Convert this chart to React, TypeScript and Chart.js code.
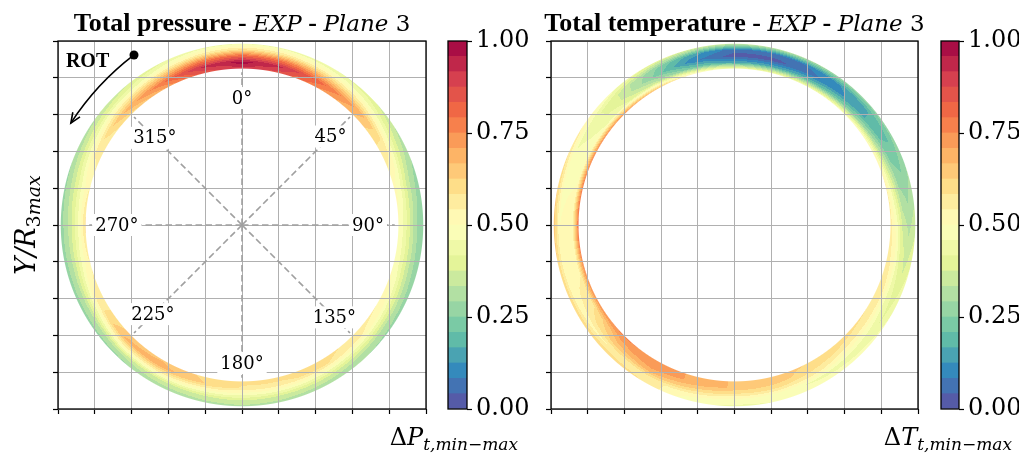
import { useEffect, useRef } from 'react';
import { Chart, registerables } from 'chart.js';

Chart.register(...registerables);

const FIG_W = 1019;
const FIG_H = 455;

// Circumferential sampling positions (deg, clockwise from top) and radial stations (Y/R3max)
const angleDeg = [0, 15, 30, 45, 60, 75, 90, 105, 120, 135, 150, 165, 180, 195, 210, 225, 240, 255, 270, 285, 300, 315, 330, 345];
const radialStations = [0.85, 0.884, 0.918, 0.951, 0.985];

// Normalised total pressure, hub -> tip
const ptHub = [0.9, 0.85, 0.74, 0.66, 0.58, 0.52, 0.5, 0.5, 0.54, 0.57, 0.6, 0.59, 0.59, 0.62, 0.66, 0.64, 0.57, 0.54, 0.6, 0.54, 0.55, 0.6, 0.7, 0.84];
const ptLower = [0.98, 0.92, 0.8, 0.7, 0.57, 0.47, 0.44, 0.45, 0.5, 0.55, 0.59, 0.58, 0.58, 0.63, 0.69, 0.68, 0.57, 0.49, 0.47, 0.49, 0.57, 0.68, 0.78, 0.92];
const ptMid = [0.82, 0.77, 0.66, 0.57, 0.46, 0.38, 0.36, 0.37, 0.41, 0.44, 0.47, 0.48, 0.48, 0.5, 0.54, 0.53, 0.44, 0.4, 0.39, 0.41, 0.47, 0.56, 0.64, 0.76];
const ptUpper = [0.6, 0.57, 0.52, 0.46, 0.38, 0.31, 0.29, 0.3, 0.32, 0.34, 0.36, 0.37, 0.38, 0.37, 0.37, 0.35, 0.33, 0.32, 0.32, 0.34, 0.38, 0.43, 0.48, 0.56];
const ptTip = [0.45, 0.44, 0.42, 0.39, 0.32, 0.27, 0.26, 0.26, 0.27, 0.29, 0.3, 0.31, 0.32, 0.31, 0.3, 0.28, 0.27, 0.27, 0.27, 0.28, 0.31, 0.35, 0.4, 0.44];

// Normalised total temperature, hub -> tip
const ttHub = [0.45, 0.45, 0.46, 0.5, 0.52, 0.55, 0.56, 0.57, 0.58, 0.6, 0.62, 0.64, 0.66, 0.7, 0.74, 0.76, 0.74, 0.76, 0.8, 0.78, 0.76, 0.74, 0.66, 0.52];
const ttLower = [0.15, 0.16, 0.2, 0.25, 0.32, 0.4, 0.48, 0.53, 0.55, 0.57, 0.6, 0.64, 0.66, 0.7, 0.74, 0.7, 0.58, 0.53, 0.52, 0.5, 0.48, 0.44, 0.36, 0.22];
const ttMid = [0.02, 0.03, 0.08, 0.14, 0.21, 0.28, 0.36, 0.42, 0.46, 0.5, 0.55, 0.58, 0.58, 0.62, 0.68, 0.64, 0.56, 0.52, 0.52, 0.49, 0.46, 0.4, 0.26, 0.1];
const ttUpper = [0.06, 0.06, 0.1, 0.15, 0.2, 0.26, 0.32, 0.37, 0.41, 0.43, 0.45, 0.47, 0.48, 0.52, 0.56, 0.54, 0.52, 0.5, 0.5, 0.48, 0.45, 0.4, 0.28, 0.15];
const ttTip = [0.35, 0.33, 0.3, 0.27, 0.27, 0.3, 0.36, 0.42, 0.46, 0.48, 0.48, 0.46, 0.45, 0.47, 0.58, 0.62, 0.62, 0.62, 0.66, 0.62, 0.56, 0.48, 0.42, 0.38];

const contourLevels = 24;
const colorbarTicks = [0, 0.25, 0.5, 0.75, 1];

// Sector annotation of the pressure map
const sectorAngles = [0, 45, 90, 135, 180, 225, 270, 315];
const sectorLabels = ['0°', '45°', '90°', '135°', '180°', '225°', '270°', '315°'];
const sectorLabelRadius = [0.69, 0.68, 0.685, 0.71, 0.75, 0.685, 0.68, 0.67];
const sectorLineRadius = 0.83;

// Rotation marker (data coordinates)
const rotText = { x: -0.957, y: 0.86 };
const rotStart = { x: -0.587, y: 0.924 };
const rotEnd = { x: -0.93, y: 0.554 };

const pressureArea = { left: 58, right: 426, top: 41, bottom: 409 };
const temperatureArea = { left: 551, right: 918, top: 41, bottom: 409 };
const pressureBar = { left: 448, right: 467, top: 41, bottom: 409 };
const temperatureBar = { left: 941, right: 959, top: 41, bottom: 409 };

// matplotlib "Spectral" anchors
const spectralStops = ['#9e0142', '#d53e4f', '#f46d43', '#fdae61', '#fee08b', '#ffffbf', '#e6f598', '#abdda4', '#66c2a5', '#3288bd', '#5e4fa2'];

function hexRgb(h: string): number[] {
  return [parseInt(h.slice(1, 3), 16), parseInt(h.slice(3, 5), 16), parseInt(h.slice(5, 7), 16)];
}

function spectralR(t: number): number[] {
  const u = Math.min(Math.max(1 - t, 0), 1) * (spectralStops.length - 1);
  const i = Math.min(Math.floor(u), spectralStops.length - 2);
  const f = u - i;
  const a = hexRgb(spectralStops[i]);
  const b = hexRgb(spectralStops[i + 1]);
  return [0, 1, 2].map((k) => Math.round(a[k] + (b[k] - a[k]) * f));
}

const bandRgb: number[][] = [];
for (let i = 0; i < contourLevels; i++) bandRgb.push(spectralR((i + 0.5) / contourLevels));
const bandCss = bandRgb.map((c) => `rgb(${c[0]},${c[1]},${c[2]})`);

function sampleField(rings: number[][], r: number, theta: number): number {
  const n = angleDeg.length;
  let i = n - 1;
  for (let k = 0; k < n; k++) {
    if (angleDeg[k] <= theta) i = k;
  }
  const a0 = angleDeg[i];
  const a1 = i + 1 < n ? angleDeg[i + 1] : angleDeg[0] + 360;
  const ft = (theta - a0) / (a1 - a0);
  const i1 = (i + 1) % n;
  let j = 0;
  for (let k = 0; k < radialStations.length - 1; k++) {
    if (radialStations[k] <= r) j = k;
  }
  const r0 = radialStations[j];
  const r1 = radialStations[j + 1];
  const fr = Math.min(Math.max((r - r0) / (r1 - r0), 0), 1);
  const v0 = rings[j][i] + (rings[j][i1] - rings[j][i]) * ft;
  const v1 = rings[j + 1][i] + (rings[j + 1][i1] - rings[j + 1][i]) * ft;
  return v0 + (v1 - v0) * fr;
}

function annulusPlugin(rings: number[][]) {
  return {
    id: 'annulusField',
    beforeDatasetsDraw(chart: any) {
      const { ctx, chartArea: a, scales } = chart;
      const sx = scales.x;
      const sy = scales.y;
      const w = Math.ceil(a.right - a.left);
      const h = Math.ceil(a.bottom - a.top);
      const off = document.createElement('canvas');
      off.width = w;
      off.height = h;
      const octx = off.getContext('2d')!;
      const img = octx.createImageData(w, h);
      const pxPerUnit = sx.getPixelForValue(1) - sx.getPixelForValue(0);
      const rIn = radialStations[0];
      const rOut = radialStations[radialStations.length - 1];
      for (let py = 0; py < h; py++) {
        const Y = sy.getValueForPixel(a.top + py + 0.5);
        for (let px = 0; px < w; px++) {
          const X = sx.getValueForPixel(a.left + px + 0.5);
          const r = Math.hypot(X, Y);
          const d = Math.min((r - rIn) * pxPerUnit, (rOut - r) * pxPerUnit);
          const cov = Math.min(Math.max(d + 0.5, 0), 1);
          if (cov <= 0) continue;
          let th = (Math.atan2(X, Y) * 180) / Math.PI;
          if (th < 0) th += 360;
          const v = sampleField(rings, Math.min(Math.max(r, rIn), rOut), th);
          const lvl = Math.min(Math.max(Math.floor(v * contourLevels), 0), contourLevels - 1);
          const c = bandRgb[lvl];
          const o = (py * w + px) * 4;
          img.data[o] = c[0];
          img.data[o + 1] = c[1];
          img.data[o + 2] = c[2];
          img.data[o + 3] = Math.round(cov * 255);
        }
      }
      octx.putImageData(img, 0, 0);
      ctx.drawImage(off, a.left, a.top);
    },
  };
}

type Seg = { text: string; font: string; dy?: number };

function drawRich(ctx: CanvasRenderingContext2D, segs: Seg[], x: number, y: number, align: 'left' | 'center' | 'right') {
  ctx.save();
  ctx.textAlign = 'left';
  ctx.textBaseline = 'alphabetic';
  ctx.fillStyle = '#000';
  let total = 0;
  const widths = segs.map((s) => {
    ctx.font = s.font;
    const m = ctx.measureText(s.text).width;
    total += m;
    return m;
  });
  let cx = align === 'center' ? x - total / 2 : align === 'right' ? x - total : x;
  segs.forEach((s, k) => {
    ctx.font = s.font;
    ctx.fillText(s.text, cx, y + (s.dy || 0));
    cx += widths[k];
  });
  ctx.restore();
}

const BOLD = 'bold 26px "Liberation Serif"';
const mathIt = (s: number) => `italic ${s}px "DejaVu Serif"`;
const mathRm = (s: number) => `${s}px "DejaVu Serif"`;

function titleSegs(name: string): Seg[] {
  return [
    { text: name + ' - ', font: BOLD },
    { text: 'EXP', font: mathIt(23) },
    { text: ' - ', font: BOLD },
    { text: 'Plane', font: mathIt(23) },
    { text: ' 3', font: mathRm(23) },
  ];
}

function deltaLabel(sym: string): Seg[] {
  return [
    { text: 'Δ', font: mathRm(24) },
    { text: sym, font: mathIt(24) },
    { text: 't,min−max', font: mathIt(17), dy: 5 },
  ];
}

function frame(ctx: CanvasRenderingContext2D, a: any) {
  ctx.save();
  ctx.strokeStyle = '#000';
  ctx.lineWidth = 1.3;
  ctx.strokeRect(a.left, a.top, a.right - a.left, a.bottom - a.top);
  ctx.restore();
}

function decorPlugin(kind: 'pressure' | 'temperature') {
  return {
    id: 'panelDecor',
    afterDraw(chart: any) {
      const { ctx, chartArea: a, scales } = chart;
      const sx = scales.x;
      const sy = scales.y;
      const P = (x: number, y: number) => [sx.getPixelForValue(x), sy.getPixelForValue(y)];
      frame(ctx, a);
      const cxm = (a.left + a.right) / 2;
      if (kind === 'pressure') {
        // sector lines
        ctx.save();
        ctx.strokeStyle = '#a0a0a0';
        ctx.lineWidth = 1.6;
        ctx.setLineDash([6.5, 3.5]);
        sectorAngles.forEach((deg) => {
          const t = (deg * Math.PI) / 180;
          const [x0, y0] = P(0, 0);
          const [x1, y1] = P(sectorLineRadius * Math.sin(t), sectorLineRadius * Math.cos(t));
          ctx.beginPath();
          ctx.moveTo(x0, y0);
          ctx.lineTo(x1, y1);
          ctx.stroke();
        });
        ctx.restore();
        // sector labels on white boxes
        ctx.save();
        ctx.font = '18px "DejaVu Serif"';
        ctx.textAlign = 'center';
        ctx.textBaseline = 'middle';
        sectorAngles.forEach((deg, k) => {
          const t = (deg * Math.PI) / 180;
          const rr = sectorLabelRadius[k];
          const [x, y] = P(rr * Math.sin(t), rr * Math.cos(t));
          const tw = ctx.measureText(sectorLabels[k]).width;
          ctx.fillStyle = '#fff';
          ctx.fillRect(x - tw / 2 - 3, y - 11, tw + 6, 22);
          ctx.fillStyle = '#000';
          ctx.fillText(sectorLabels[k], x, y + 1);
        });
        ctx.restore();
        // rotation marker
        ctx.save();
        ctx.font = 'bold 20px "Liberation Serif"';
        ctx.fillStyle = '#000';
        const [tx, ty] = P(rotText.x, rotText.y);
        ctx.fillText('ROT', tx, ty);
        const [sx0, sy0] = P(rotStart.x, rotStart.y);
        const [ex, ey] = P(rotEnd.x, rotEnd.y);
        const mx = (sx0 + ex) / 2;
        const my = (sy0 + ey) / 2;
        const len = Math.hypot(ex - sx0, ey - sy0);
        const nx = (ey - sy0) / len;
        const ny = -(ex - sx0) / len;
        const cpx = mx - nx * 8;
        const cpy = my - ny * 8;
        ctx.strokeStyle = '#000';
        ctx.lineWidth = 1.6;
        ctx.beginPath();
        ctx.moveTo(sx0, sy0);
        ctx.quadraticCurveTo(cpx, cpy, ex, ey);
        ctx.stroke();
        const ang = Math.atan2(ey - cpy, ex - cpx);
        ctx.beginPath();
        ctx.moveTo(ex - 11 * Math.cos(ang - 0.4), ey - 11 * Math.sin(ang - 0.4));
        ctx.lineTo(ex, ey);
        ctx.lineTo(ex - 11 * Math.cos(ang + 0.4), ey - 11 * Math.sin(ang + 0.4));
        ctx.stroke();
        ctx.beginPath();
        ctx.arc(sx0, sy0, 4.5, 0, Math.PI * 2);
        ctx.fill();
        ctx.restore();
        drawRich(ctx, titleSegs('Total pressure'), cxm, 31, 'center');
        // y label
        ctx.save();
        ctx.translate(35, (a.top + a.bottom) / 2);
        ctx.rotate(-Math.PI / 2);
        drawRich(ctx, [
          { text: 'Y/R', font: mathIt(27) },
          { text: '3', font: mathRm(19), dy: 5 },
          { text: 'max', font: mathIt(19), dy: 5 },
        ], 0, 0, 'center');
        ctx.restore();
        drawRich(ctx, deltaLabel('P'), 518, 445, 'right');
      } else {
        drawRich(ctx, titleSegs('Total temperature'), cxm, 31, 'center');
        drawRich(ctx, deltaLabel('T'), 1012, 445, 'right');
      }
    },
  };
}

function panelConfig(area: any, rings: number[][], kind: 'pressure' | 'temperature'): any {
  const axis = (position: string) => ({
    type: 'linear',
    position,
    min: -1,
    max: 1,
    ticks: { display: false, stepSize: 0.2 },
    grid: { color: '#b0b0b0', lineWidth: 1, tickLength: 5, tickColor: '#000', tickWidth: 1.2, z: 1 },
    border: { display: false },
  });
  return {
    type: 'scatter',
    data: { datasets: [] },
    options: {
      responsive: false,
      animation: false,
      events: [],
      layout: { padding: { left: area.left - 5, right: FIG_W - area.right, top: area.top, bottom: FIG_H - area.bottom - 5 } },
      plugins: { legend: { display: false }, tooltip: { enabled: false } },
      scales: { x: axis('bottom'), y: axis('left') },
    },
    plugins: [annulusPlugin(rings), decorPlugin(kind)],
  };
}

function colorbarConfig(bar: any): any {
  return {
    type: 'bar',
    data: {
      labels: [''],
      datasets: bandCss.map((c, i) => ({
        data: [[i / contourLevels, (i + 1) / contourLevels]],
        backgroundColor: c,
        borderWidth: 0,
        grouped: false,
        barPercentage: 1,
        categoryPercentage: 1,
      })),
    },
    options: {
      responsive: false,
      animation: false,
      events: [],
      layout: { padding: { left: bar.left, right: FIG_W - bar.right - 70, top: bar.top, bottom: FIG_H - bar.bottom } },
      plugins: { legend: { display: false }, tooltip: { enabled: false } },
      scales: {
        x: { display: false },
        y: {
          position: 'right',
          min: 0,
          max: 1,
          afterBuildTicks: (s: any) => {
            s.ticks = colorbarTicks.map((v) => ({ value: v }));
          },
          afterFit: (s: any) => {
            s.width = 70;
          },
          ticks: {
            callback: (v: any) => Number(v).toFixed(2),
            color: '#000',
            font: { family: 'DejaVu Serif', size: 24 },
            padding: 4,
          },
          grid: { drawOnChartArea: false, tickLength: 5, tickColor: '#000', tickWidth: 1.2, color: '#000' },
          border: { display: false },
        },
      },
    },
    plugins: [
      {
        id: 'colorbarOutline',
        afterDraw(chart: any) {
          frame(chart.ctx, chart.chartArea);
        },
      },
    ],
  };
}

export default function App() {
  const pRef = useRef<HTMLCanvasElement>(null);
  const pbRef = useRef<HTMLCanvasElement>(null);
  const tRef = useRef<HTMLCanvasElement>(null);
  const tbRef = useRef<HTMLCanvasElement>(null);

  useEffect(() => {
    const charts = [
      new Chart(pRef.current!, panelConfig(pressureArea, [ptHub, ptLower, ptMid, ptUpper, ptTip], 'pressure')),
      new Chart(pbRef.current!, colorbarConfig(pressureBar)),
      new Chart(tRef.current!, panelConfig(temperatureArea, [ttHub, ttLower, ttMid, ttUpper, ttTip], 'temperature')),
      new Chart(tbRef.current!, colorbarConfig(temperatureBar)),
    ];
    return () => charts.forEach((c) => c.destroy());
  }, []);

  const st: any = { position: 'absolute', left: 0, top: 0, width: FIG_W, height: FIG_H };
  return (
    <div style={{ position: 'absolute', left: 0, top: 0, width: FIG_W, height: FIG_H, background: '#fff' }}>
      <canvas ref={pRef} width={FIG_W} height={FIG_H} style={st} />
      <canvas ref={pbRef} width={FIG_W} height={FIG_H} style={st} />
      <canvas ref={tRef} width={FIG_W} height={FIG_H} style={st} />
      <canvas ref={tbRef} width={FIG_W} height={FIG_H} style={st} />
    </div>
  );
}
